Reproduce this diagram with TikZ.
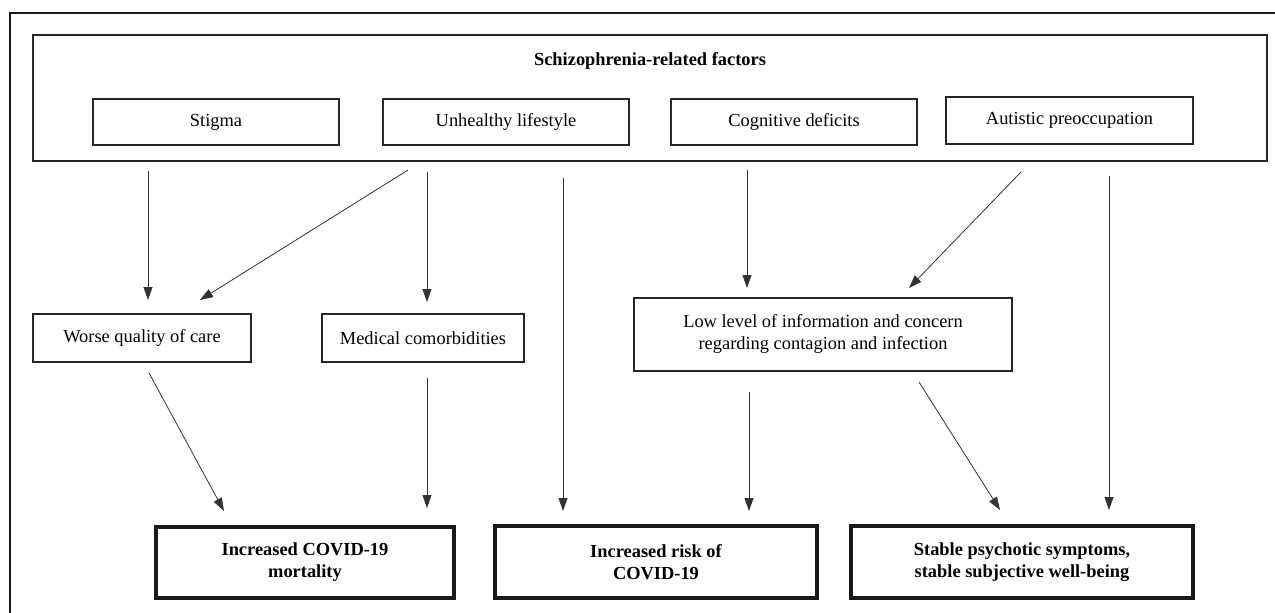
\documentclass[tikz,border=0pt]{standalone}
\usepackage{fontspec}
\setmainfont{Liberation Serif}
\usetikzlibrary{arrows.meta}

\begin{document}
\begin{tikzpicture}[x=1pt, y=-1pt,
		box/.style={draw=black!85, line width=1.3pt, inner sep=0pt, align=center, font=\fontsize{18.4}{22}\selectfont},
		outcome/.style={draw=black!90, line width=4pt, inner sep=0pt, align=center, font=\fontsize{18.4}{22}\selectfont\bfseries},
		arr/.style={draw=black!80, line width=0.8pt, -{Triangle[length=13pt, width=9pt]}}]
		%%%%% FRAME %%%%%
		\useasboundingbox (0, 0) rectangle (1275, 613);
		\draw[line width=2pt, black!90] (10, 613) -- (10, 13) -- (1275, 13);
		
		%%%%% FACTORS %%%%%
		\node[box, minimum width=1234pt, minimum height=126pt] (factors) at (650, 98) {};
		\node[font=\fontsize{18.4}{22}\selectfont\bfseries] (title) at (650, 61) {Schizophrenia-related factors};
		
		\node[box, minimum width=246pt, minimum height=46pt] (stigma) at (216, 122) {Stigma};
		\node[box, minimum width=246pt, minimum height=46pt] (unhealthy) at (506, 122) {Unhealthy lifestyle};
		\node[box, minimum width=246pt, minimum height=46pt] (cognitive) at (794, 122) {Cognitive deficits};
		\node[box, minimum width=247pt, minimum height=47pt] (autistic) at (1069.5, 120.5) {Autistic preoccupation};
		
		%%%%% MIDDLE %%%%%
		\node[box, minimum width=218pt, minimum height=48pt] (worse) at (142, 338) {Worse quality of care};
		\node[box, minimum width=202pt, minimum height=48pt] (medical) at (423, 338) {Medical comorbidities};
		\node[box, minimum width=378pt, minimum height=73pt] (low) at (823, 334.5) {Low level of information and concern\\regarding contagion and infection};
		
		%%%%% OUTCOMES %%%%%
		\node[outcome, minimum width=298pt, minimum height=71pt] (mortality) at (305, 562.5) {Increased COVID-19\\mortality};
		\node[outcome, minimum width=322pt, minimum height=72pt] (risk) at (656, 562) {Increased risk of\\COVID-19};
		\node[outcome, minimum width=342pt, minimum height=72pt] (stable) at (1022, 562) {Stable psychotic symptoms,\\stable subjective well-being};
		
		%%%%% ARROWS %%%%%
		\coordinate (stigma-a) at (148, 171);
		\coordinate (unhealthy-a) at (408, 170);
		\coordinate (unhealthy-b) at (427, 172);
		\coordinate (unhealthy-c) at (563, 178);
		\coordinate (cognitive-a) at (747, 170);
		\coordinate (autistic-a) at (1021, 172);
		\coordinate (autistic-b) at (1109, 176);
		\coordinate (worse-a) at (149, 373);
		\coordinate (medical-a) at (427, 378);
		\coordinate (low-a) at (749, 392);
		\coordinate (low-b) at (919, 382);
		
		\draw[arr] (stigma-a) -- (stigma-a |- 0, 300);
		\draw[arr] (unhealthy-a) -- (200, 300);
		\draw[arr] (unhealthy-b) -- (unhealthy-b |- 0, 302);
		\draw[arr] (unhealthy-c) -- (unhealthy-c |- 0, 511);
		\draw[arr] (cognitive-a) -- (cognitive-a |- 0, 288);
		\draw[arr] (autistic-a) -- (909, 288);
		\draw[arr] (autistic-b) -- (autistic-b |- 0, 510);
		\draw[arr] (worse-a) -- (224, 511);
		\draw[arr] (medical-a) -- (medical-a |- 0, 508);
		\draw[arr] (low-a) -- (low-a |- 0, 511);
		\draw[arr] (low-b) -- (1000, 510);
		
		%%%%% END %%%%%
	\end{tikzpicture}
\end{document}
